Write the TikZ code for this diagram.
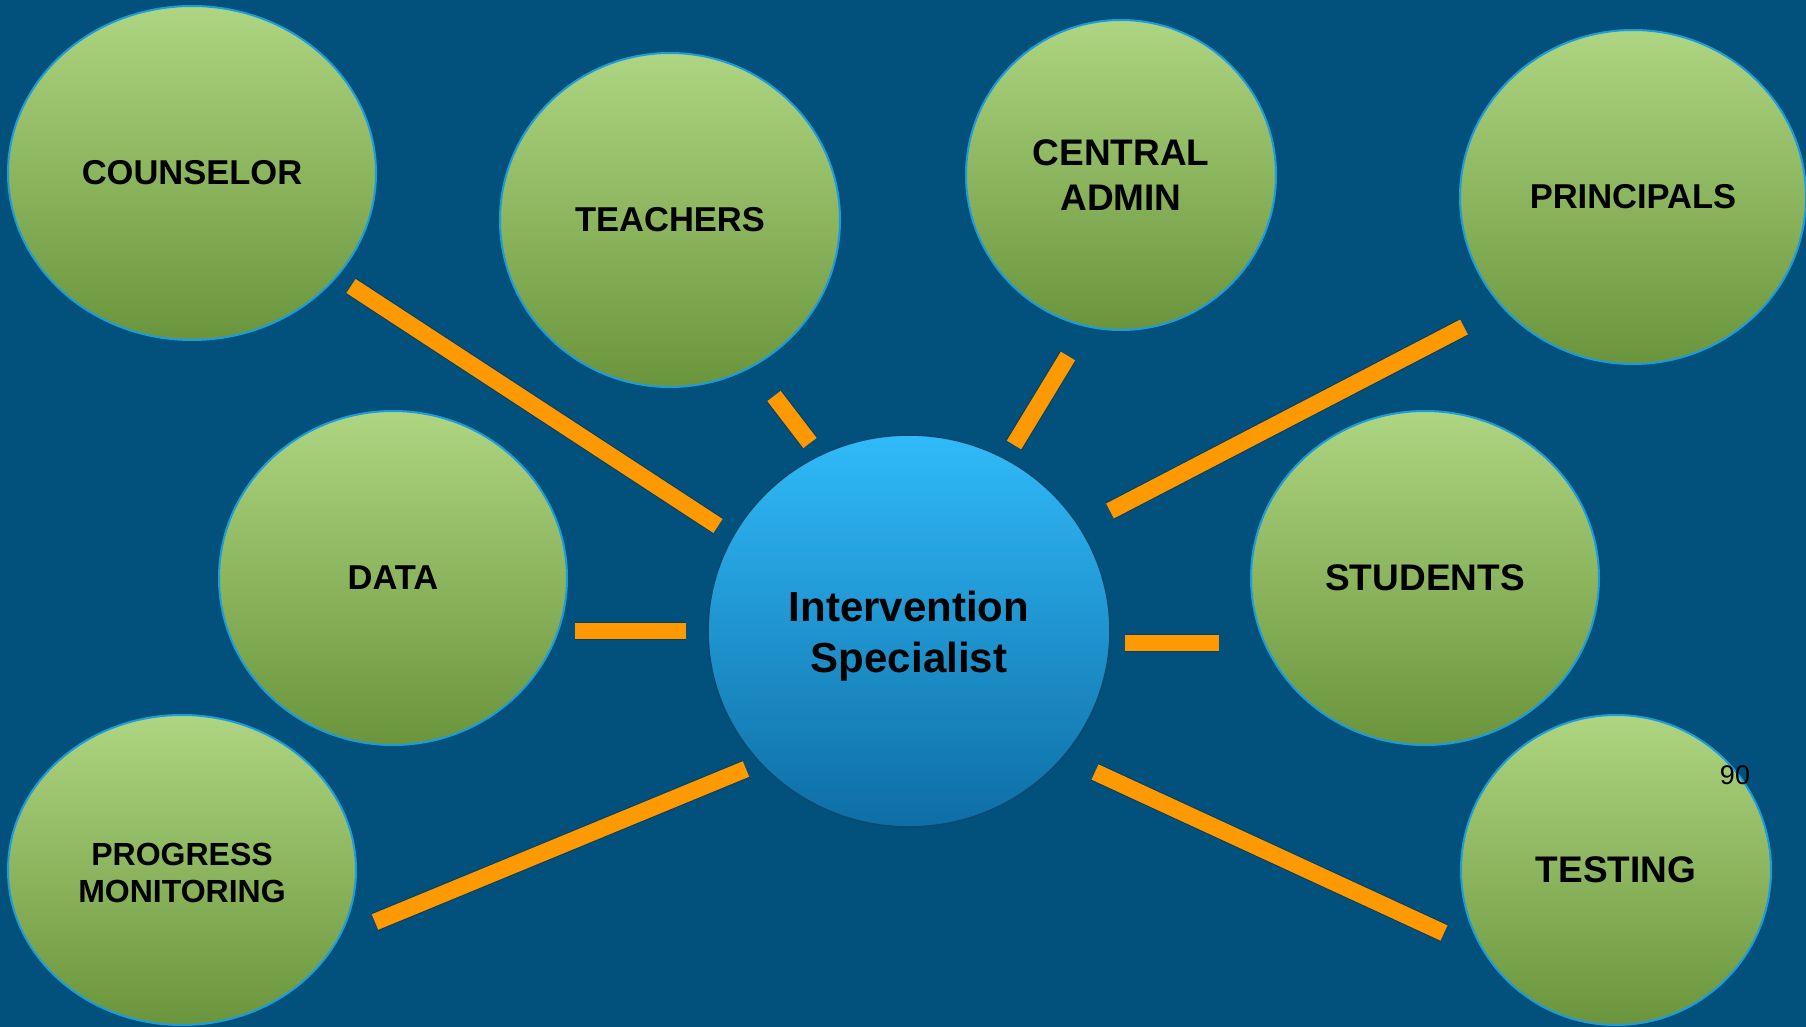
\documentclass[tikz,border=0pt]{standalone}
\usepackage{fontspec}
\setmainfont{Liberation Sans}
\usetikzlibrary{shapes.geometric}
\definecolor{bg}{HTML}{01517C}
\definecolor{gtop}{HTML}{AED581}
\definecolor{gbot}{HTML}{6A953C}
\definecolor{gline}{HTML}{1B9DDB}
\definecolor{btop}{HTML}{30BAF9}
\definecolor{bbot}{HTML}{0E6EA5}
\definecolor{bline}{HTML}{0A4A70}
\definecolor{barfill}{HTML}{FF9900}
\definecolor{barline}{HTML}{0A3D5E}
\begin{document}
\begin{tikzpicture}[x=0.5pt,y=-0.5pt,
  sz/.style 2 args={minimum width=#1pt, minimum height=#2pt},
  bubble/.style={ellipse, draw=gline, line width=1pt, top color=gtop, bottom color=gbot,
    inner sep=0pt, align=center, text=black, font=\bfseries\fontsize{17.25}{19}\selectfont},
  bigtext/.style={font=\bfseries\fontsize{18.5}{22.5}\selectfont},
  smalltext/.style={font=\bfseries\fontsize{16}{18.5}\selectfont},
  hub/.style={ellipse, draw=bline, line width=0.8pt, top color=btop, bottom color=bbot,
    inner sep=0pt, align=center, text=black, font=\bfseries\fontsize{21}{25.5}\selectfont},
  bar/.style={draw=barline, line width=0.5pt, double=barfill, double distance=8.4pt, line cap=butt}]
\useasboundingbox (0,0) rectangle (1806,1027);
\fill[bg] (0,0) rectangle (1806,1027);

\node[bubble, sz={184}{167}] (couns) at (192,173) {COUNSELOR};
\node[bubble, sz={170}{167}] (teach) at (670,220) {TEACHERS};
\node[bubble, bigtext, sz={155}{155}] (admin) at (1121,175) {CENTRAL\\ADMIN};
\node[bubble, sz={173}{167}] (princ) at (1633,197) {PRINCIPALS};
\node[bubble, sz={174}{167}] (data) at (393,578) {DATA};
\node[bubble, bigtext, sz={174}{167}] (stud) at (1425,578) {STUDENTS};
\node[bubble, smalltext, sz={174}{155}] (prog) at (182,870) {\rule{0pt}{13.8pt}PROGRESS\\MONITORING};
\node[bubble, bigtext, sz={155}{155}] (test) at (1616,870) {TESTING};
\node[hub, sz={201}{196}] (hub) at (909,631) {\rule{0pt}{20.3pt}Intervention\\Specialist};
\node[font=\fontsize{13.5}{16}\selectfont, text=black, inner sep=0pt] (pnum) at (1735,775) {90};

\coordinate (b1a) at (351,286);  \coordinate (b1b) at (718,526);
\coordinate (b2a) at (774,396);  \coordinate (b2b) at (810,443);
\coordinate (b3a) at (1068,356); \coordinate (b3b) at (1014,445);
\coordinate (b4a) at (1464,327); \coordinate (b4b) at (1110,511);
\coordinate (b5a) at (575,631);  \coordinate (b5b) at (686,631);
\coordinate (b6a) at (1125,643); \coordinate (b6b) at (1219,643);
\coordinate (b7a) at (375,922);  \coordinate (b7b) at (746,769);
\coordinate (b8a) at (1095,772); \coordinate (b8b) at (1444,933);

\draw[bar] (b1a) -- (b1b);
\draw[bar] (b2a) -- (b2b);
\draw[bar] (b3a) -- (b3b);
\draw[bar] (b4a) -- (b4b);
\draw[bar] (b5a) -- (b5b);
\draw[bar] (b6a) -- (b6b);
\draw[bar] (b7a) -- (b7b);
\draw[bar] (b8a) -- (b8b);
\end{tikzpicture}
\end{document}
